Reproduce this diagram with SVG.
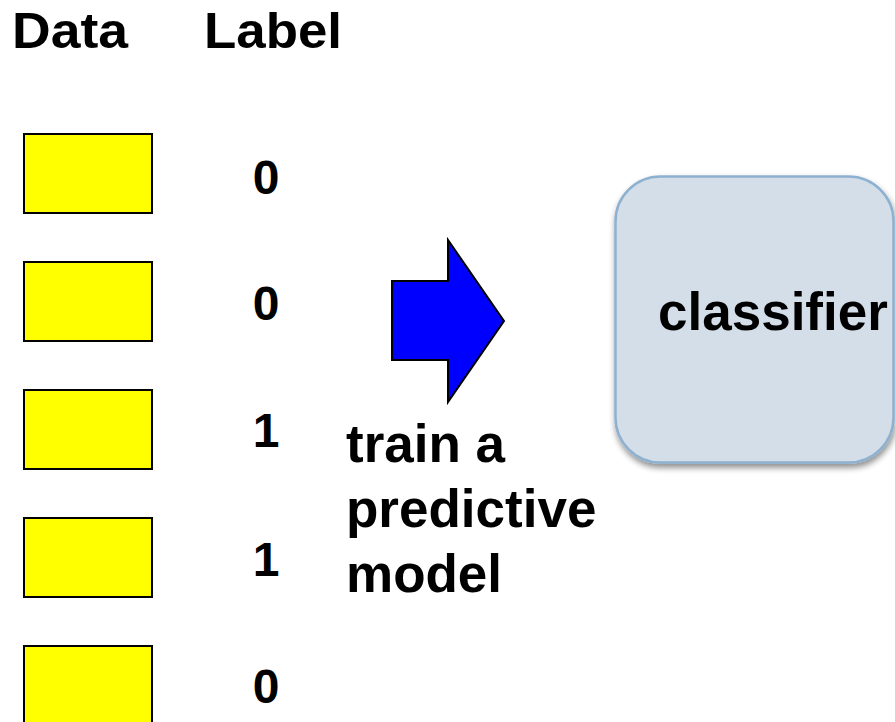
<svg xmlns="http://www.w3.org/2000/svg" width="895" height="722" viewBox="0 0 895 722">
<defs>
<style>
text{font-family:"Liberation Sans",Arial,sans-serif;font-weight:bold;fill:#000}
.hdr{font-size:50px}
.lbl{font-size:48px;text-anchor:middle}
.body{font-size:53px}
.data{fill:#ffff00;stroke:#000;stroke-width:2}
</style>
<filter id="sh" x="-10%" y="-10%" width="130%" height="130%">
<feGaussianBlur in="SourceAlpha" stdDeviation="3"/>
<feOffset dx="1" dy="4" result="b"/>
<feComponentTransfer><feFuncA type="linear" slope="0.45"/></feComponentTransfer>
<feMerge><feMergeNode/><feMergeNode in="SourceGraphic"/></feMerge>
</filter>
</defs>
<rect width="895" height="722" fill="#fff"/>
<g id="headers">
<text class="hdr" x="12" y="48" textLength="116" lengthAdjust="spacingAndGlyphs">Data</text>
<text class="hdr" x="204" y="48" textLength="138" lengthAdjust="spacingAndGlyphs">Label</text>
</g>
<g id="data1"><rect class="data" x="24" y="134" width="128" height="79"/><text class="lbl" x="266" y="194">0</text></g>
<g id="data2"><rect class="data" x="24" y="262" width="128" height="79"/><text class="lbl" x="266" y="320">0</text></g>
<g id="data3"><rect class="data" x="24" y="390" width="128" height="79"/><text class="lbl" x="266" y="447">1</text></g>
<g id="data4"><rect class="data" x="24" y="518" width="128" height="79"/><text class="lbl" x="266" y="576">1</text></g>
<g id="data5"><rect class="data" x="24" y="646" width="128" height="79"/><text class="lbl" x="266" y="703">0</text></g>
<g id="connectors">
<polygon points="392,281 448,281 448,240 504,321 448,402 448,360 392,360" fill="#0000ff" stroke="#000" stroke-width="2" stroke-linejoin="miter"/>
</g>
<g id="train-label">
<text class="body" x="346" y="462">train a</text>
<text class="body" x="346" y="527">predictive</text>
<text class="body" x="346" y="592">model</text>
</g>
<g id="classifier">
<rect x="615.5" y="176.5" width="278" height="286" rx="45" ry="45" fill="#d3dee9" stroke="#8eb1d0" stroke-width="2.5" filter="url(#sh)"/>
<text class="body" x="658" y="330">classifier</text>
</g>
</svg>
